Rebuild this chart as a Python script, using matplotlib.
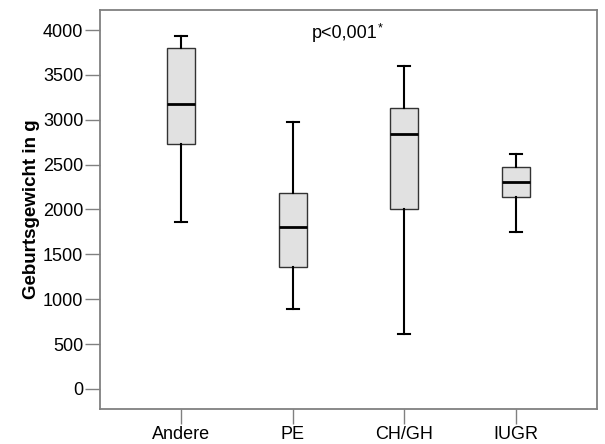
import matplotlib
matplotlib.use("Agg")
import matplotlib.pyplot as plt

plt.rcParams['font.family'] = ['Liberation Sans', 'DejaVu Sans']

# Boxplot-Kennwerte
gruppen = ['Andere', 'PE', 'CH/GH', 'IUGR']
whisker_unten = [1857, 891, 616, 1746]
q1 = [2733, 1363, 2005, 2136]
median = [3175, 1800, 2837, 2310]
q3 = [3796, 2187, 3127, 2477]
whisker_oben = [3933, 2971, 3602, 2615]
y_ticks = [0, 500, 1000, 1500, 2000, 2500, 3000, 3500, 4000]

stats = []
for i in range(len(gruppen)):
    stats.append(dict(label=gruppen[i], whislo=whisker_unten[i], q1=q1[i],
                      med=median[i], q3=q3[i], whishi=whisker_oben[i], fliers=[]))

fig = plt.figure(figsize=(6.05, 4.44), dpi=100)
ax = fig.add_axes([100/605, 35/444, 497/605, 399/444])

ax.bxp(stats, positions=[1, 2, 3, 4], widths=0.25, patch_artist=True,
       showfliers=False,
       boxprops=dict(facecolor='#e1e1e1', edgecolor='#333333', linewidth=1.0),
       medianprops=dict(color='black', linewidth=2.0),
       whiskerprops=dict(color='black', linewidth=1.5),
       capprops=dict(color='black', linewidth=1.5),
       capwidths=0.11)

ax.set_xlim(0.275, 4.725)
ax.set_ylim(-223, 4223)
ax.set_yticks(y_ticks)
ax.set_xticks([1, 2, 3, 4])
ax.set_xticklabels(gruppen)

for s in ax.spines.values():
    s.set_color('#808080')
    s.set_linewidth(1.3)
ax.tick_params(axis='both', colors='#808080', length=11, width=1.0, pad=1,
               labelcolor='black', labelsize=13)

ax.set_ylabel('Geburtsgewicht in g', fontsize=13.5, fontweight='bold', labelpad=2)

ax.text(0.426, 0.929, 'p<0,001', transform=ax.transAxes, fontsize=13,
        ha='left', va='baseline')
ax.text(0.558, 0.946, '*', transform=ax.transAxes, fontsize=9,
        ha='left', va='baseline')

fig.savefig('out.png', dpi=100)
